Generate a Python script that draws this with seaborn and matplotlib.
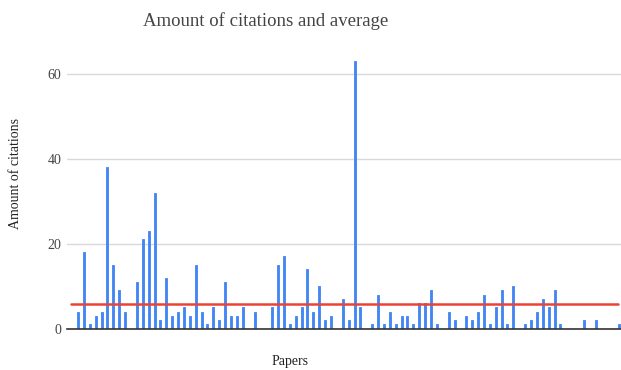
import numpy as np
import pandas as pd
import seaborn as sns
import matplotlib.pyplot as plt

# citations per paper
citations = [4, 18, 1, 3, 4, 38, 15, 9, 4, 0,
             11, 21, 23, 32, 2, 12, 3, 4, 5, 3,
             15, 4, 1, 5, 2, 11, 3, 3, 5, 0,
             4, 0, 0, 5, 15, 17, 1, 3, 5, 14,
             4, 10, 2, 3, 0, 7, 2, 63, 5, 0,
             1, 8, 1, 4, 1, 3, 3, 1, 6, 6,
             9, 1, 0, 4, 2, 0, 3, 2, 4, 8,
             1, 5, 9, 1, 10, 0, 1, 2, 4, 7,
             5, 9, 1, 0, 0, 0, 2, 0, 2, 0,
             0, 0, 1]
papers = list(range(len(citations)))
average = np.mean(citations)
y_ticks = [0, 20, 40, 60]

df = pd.DataFrame({"paper": papers, "citations": citations})

sns.set_style("white")
plt.rcParams["font.family"] = ["Liberation Serif", "DejaVu Serif"]

fig = plt.figure(figsize=(6.21, 3.70), dpi=100)
ax = fig.add_axes([0.108, 0.1116, 0.892, 0.7295])

sns.barplot(data=df, x="paper", y="citations", color="#4285F4",
            saturation=1, width=0.34, edgecolor="#4285F4", linewidth=0.6,
            ax=ax, zorder=3)
ax.axhline(average, xmin=0.0067, xmax=0.995, color="#EA4335", lw=1.8, zorder=4)

ax.set_xlim(-1.87, 92.3)
ax.set_ylim(0, 63.5)
ax.set_yticks(y_ticks)
ax.set_xticks([])
ax.yaxis.grid(True, color="#d9d9d9", lw=1, zorder=0)
ax.tick_params(axis="y", length=0, pad=4, labelsize=10, labelcolor="#444444")
for s in ["top", "right", "left"]:
    ax.spines[s].set_visible(False)
ax.spines["bottom"].set_color("#333333")
ax.spines["bottom"].set_linewidth(1.2)
ax.spines["bottom"].set_zorder(5)

ax.set_xlabel("")
ax.set_ylabel("")
fig.text(0.427, 0.943, "Amount of citations and average", ha="center", va="center",
         fontsize=13.5, color="#444444")
fig.text(0.467, 0.022, "Papers", ha="center", va="center", fontsize=10, color="#222222")
fig.text(0.025, 0.53, "Amount of citations", ha="center", va="center",
         rotation=90, fontsize=10, color="#222222")

fig.savefig("out.png", dpi=100)
